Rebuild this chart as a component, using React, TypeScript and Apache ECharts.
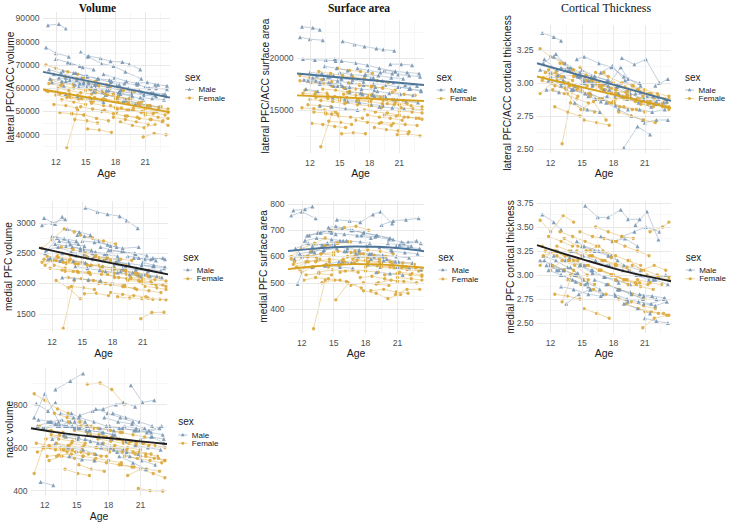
import React, { useEffect, useRef } from "react";
import * as echarts from "echarts";

// ---------- subject visit ages (shared by every panel) ----------
const maleAges: number[][] = [
  [11.2, 12.3, 13.0], [11.0, 12.0, 13.3], [15.3, 16.5, 17.5, 18.7, 19.4, 20.5], [14.5, 15.2, 16.6, 17.8, 19.0, 20.6],
  [11.3, 12.5, 13.6, 14.6], [12.0, 13.2, 14.4], [16.8, 17.9, 19.1, 20.3], [20.1, 21.2, 22.3],
  [18.1, 19.3, 20.4, 21.6, 22.8], [13.0, 14.4, 15.6], [14.0, 15.1, 16.3, 17.4], [13.5, 14.7, 15.8],
  [17.3, 18.5, 19.7, 20.8], [19.5, 20.6, 21.8, 23.0], [11.6, 12.8], [15.8, 17.0, 18.2, 19.4],
  [21.0, 22.1, 23.2], [12.3, 13.4, 14.8, 15.9], [16.2, 17.4, 18.6], [18.8, 20.0, 21.1, 22.4],
  [14.3, 15.5, 16.7], [11.8, 13.0, 14.1, 15.3], [17.6, 18.9, 20.2, 21.4], [13.0, 14.2, 15.6, 16.8],
  [20.5, 21.7, 22.9], [15.0, 16.2, 17.5, 18.4], [19.0, 20.3, 21.5], [22.0, 23.2],
  [11.4, 12.6, 13.9, 15.1], [16.0, 17.1, 18.3, 19.6], [18.4, 19.6, 20.9, 22.1], [12.7, 13.8, 15.2],
  [20.9, 22.0, 23.1], [14.8, 16.0, 17.2, 18.5],
];
const femaleAges: number[][] = [
  [13.1, 14.2], [11.0, 12.0, 13.2, 14.2], [11.5, 12.6, 13.7], [12.2, 13.3, 14.5, 15.6],
  [14.8, 16.0, 17.1, 18.3], [16.0, 17.2, 18.3, 19.5], [17.5, 18.6, 19.8, 21.0], [20.8, 21.9, 23.1],
  [19.2, 20.4, 21.6, 22.8], [12.6, 13.8, 15.0], [13.6, 14.9, 16.1, 17.3], [15.2, 16.4, 17.6],
  [18.0, 19.1, 20.3, 21.4], [11.2, 12.4, 13.5, 14.6], [16.6, 17.8, 19.0, 20.2], [21.5, 22.7, 23.3],
  [14.2, 15.4, 16.6], [11.8, 13.0, 14.1], [17.0, 18.2, 19.4, 20.6], [19.8, 21.0, 22.2, 23.3],
  [12.9, 14.1, 15.3, 16.4], [15.6, 16.8, 18.0, 19.2], [18.5, 19.7, 20.9, 22.0], [13.9, 15.1, 16.2],
  [11.0, 12.1, 13.4], [16.3, 17.5, 18.8, 19.9], [20.3, 21.5, 22.6], [14.5, 15.7, 16.9, 18.1],
  [12.4, 13.6, 14.8], [17.8, 19.0, 20.1, 21.3], [21.0, 22.3, 23.3], [15.9, 17.0, 18.2, 19.3],
  [11.3, 12.5, 13.8, 15.0], [16.8, 18.0, 19.3, 20.5], [19.5, 20.7, 21.9, 23.0], [13.3, 14.6, 15.8],
  [12.0, 13.1, 14.3, 15.5], [18.2, 19.4, 20.6, 21.8], [15.4, 16.6, 17.8], [21.2, 22.4, 23.3],
];

// ---------- lateral PFC/ACC volume ----------
const latVolMale: number[][] = [
  [87000, 87500, 85500], [77500, 75000, 73500], [73800, 72800, 71500, 71200, 70300, 68000], [75500, 73500, 70500, 69500, 67000, 64000],
  [68000, 66500, 65000, 64500], [72500, 71000, 69500], [66000, 64500, 63000, 62000], [62000, 62500, 61500],
  [61000, 60000, 59000, 58000, 57000], [63000, 62000, 60500], [66500, 65000, 64000, 63500], [70500, 69000, 68000],
  [59000, 57500, 56500, 55000], [59500, 58500, 58000, 57500], [62500, 61000], [58500, 57000, 56000, 55500],
  [60500, 60000, 59500], [64500, 63500, 62000, 61500], [62000, 61000, 59500], [54500, 53000, 52500, 52000],
  [60500, 59500, 58500], [66000, 64500, 63500, 62000], [63000, 62000, 61500, 60000], [57500, 56500, 55000, 54000],
  [56000, 55500, 55000], [65500, 64000, 62500, 61500], [55000, 53500, 52500], [61500, 61000],
  [64000, 63000, 61500, 60500], [60000, 59000, 58000, 57000], [58500, 58000, 57000, 56500], [67500, 66500, 65000],
  [57500, 57000, 56500], [62500, 61500, 60500, 59000],
];
const latVolFemale: number[][] = [
  [34500, 50500], [70000, 68500, 67000, 66000], [63500, 62000, 61500], [60000, 59000, 58000, 57500],
  [64500, 63000, 61500, 60500], [58000, 57000, 56500, 55000], [52500, 51500, 50500, 49500], [39000, 40500, 40000],
  [48000, 47000, 46500, 46000], [55000, 54000, 53000], [49000, 48500, 47000, 46000], [42500, 42000, 41000],
  [55500, 54500, 53500, 52500], [58500, 57500, 56000, 55500], [50000, 49000, 48000, 47500], [46500, 45500, 44000],
  [57000, 56000, 55000], [53000, 52500, 51500], [57500, 56000, 55500, 54000], [51500, 51000, 50000, 49500],
  [65000, 64000, 62500, 61000], [53500, 52500, 51500, 50500], [45500, 44000, 43000, 44500], [46500, 46000, 45000],
  [59000, 58500, 57500], [61000, 60000, 59000, 58500], [53500, 52500, 52000], [52000, 51000, 50500, 49500],
  [49500, 49000, 48500], [47500, 46500, 45500, 44500], [48500, 47500, 47000], [56000, 55000, 54500, 53500],
  [62000, 61000, 60000, 59000], [55500, 54500, 53500, 52500], [50500, 50000, 49500, 48500], [56500, 55500, 54500],
  [57000, 56000, 55000, 54500], [51000, 50500, 49500, 49000], [59500, 58500, 57500], [52500, 51500, 51000],
];
const latVolFitMale = [[10.7, 67000], [23.5, 55900]];
const latVolFitFemale = [[10.7, 59400], [23.5, 49700]];
const latVolTicks = [40000, 50000, 60000, 70000, 80000, 90000];

// ---------- lateral PFC/ACC surface area ----------
const latSAMale: number[][] = [
  [23000, 22900, 22700], [22000, 21800, 21700], [21600, 21300, 21100, 20900, 20800, 20700], [19900, 19700, 19500, 19300, 19000, 18700],
  [19900, 19800, 19800, 19700], [18600, 18500, 18300], [19000, 18800, 18600, 18500], [19400, 19400, 19300],
  [18000, 17800, 17600, 17400, 17300], [17500, 17300, 17100], [18200, 18000, 17900, 17700], [19200, 19000, 18800],
  [16500, 16300, 16100, 16000], [18800, 18700, 18600, 18500], [17000, 16800], [15800, 15700, 15500, 15400],
  [17200, 17000, 16900], [18100, 18000, 17800, 17600], [17600, 17400, 17200], [16800, 16600, 16500, 16400],
  [16200, 16000, 15900], [17800, 17600, 17500, 17300], [18400, 18300, 18100, 18000], [15400, 15300, 15100, 15000],
  [16000, 15800, 15700], [18600, 18400, 18300, 18100], [15300, 15200, 15100], [17000, 16800],
  [17900, 17800, 17600, 17500], [16700, 16600, 16400, 16300], [17500, 17400, 17200, 17100], [18300, 18200, 18000],
  [18400, 18300, 18200], [17300, 17200, 17000, 16900],
];
const latSAFemale: number[][] = [
  [11450, 14600], [18300, 18100, 17900, 17700], [16900, 16700, 16600], [13700, 13600, 13400, 13300],
  [19000, 18800, 18700, 18500], [16800, 16600, 16500, 16300], [15000, 14800, 14700, 14500], [12600, 12700, 12500],
  [13800, 13700, 13600, 13500], [16200, 16100, 15900], [14600, 14400, 14300, 14200], [12700, 12800, 12700],
  [16400, 16200, 16000, 15900], [15200, 15100, 15000, 14800], [14000, 13800, 13700, 13500], [14300, 14200, 14100],
  [17300, 17100, 17000], [15500, 15400, 15300], [17400, 17200, 17100, 16900], [15600, 15500, 15400, 15300],
  [18700, 18500, 18300, 18100], [15700, 15500, 15400, 15200], [13300, 13100, 13000, 12900], [13900, 13800, 13600],
  [17800, 17600, 17500], [18200, 18000, 17800, 17600], [16700, 16500, 16400], [16300, 16200, 16000, 15800],
  [14800, 14700, 14600], [14500, 14300, 14200, 14000], [14900, 14800, 14700], [17600, 17400, 17300, 17100],
  [16600, 16500, 16400, 16200], [15900, 15800, 15600, 15500], [14500, 14400, 14300, 14200], [17000, 16900, 16700],
  [16000, 15900, 15800, 15600], [16000, 15900, 15700, 15600], [16500, 16400, 16200], [15200, 15100, 15000],
];
const latSAFitMale = [[10.7, 18500], [23.5, 17400]];
const latSAFitFemale = [[10.7, 16400], [23.5, 15850]];
const latSATicks = [15000, 20000];

// ---------- lateral PFC/ACC cortical thickness ----------
const latThkMale: number[][] = [
  [3.38, 3.35, 3.32], [3.10, 3.08, 3.05], [3.02, 3.00, 2.98, 3.12, 3.03, 3.00], [3.18, 3.20, 3.15, 3.12, 3.05, 2.98],
  [3.15, 3.22, 3.12, 3.05], [3.05, 3.02, 2.98], [3.08, 3.13, 3.02, 2.95], [2.92, 2.90, 2.88],
  [2.90, 2.88, 2.85, 2.82, 2.85], [3.12, 3.06, 3.02], [2.95, 3.00, 2.88, 2.90], [3.10, 3.05, 3.02],
  [2.85, 2.80, 2.75, 2.72], [2.95, 2.93, 2.90, 2.88], [2.95, 2.93], [2.92, 2.88, 2.83, 2.80],
  [2.70, 2.72, 2.72], [3.20, 3.15, 3.08, 3.05], [3.05, 3.02, 2.98], [3.19, 3.14, 3.18, 3.00],
  [2.85, 2.80, 2.78], [3.02, 3.00, 2.95, 2.92], [2.95, 2.90, 2.88, 2.85], [2.98, 2.95, 2.90, 2.86],
  [2.80, 2.78, 2.80], [3.10, 3.05, 3.02, 2.98], [2.51, 2.67, 2.61], [2.98, 3.03],
  [3.18, 3.10, 3.12, 3.02], [3.00, 2.95, 2.97, 2.90], [2.98, 2.92, 2.88, 2.86], [3.06, 3.10, 3.00],
  [2.88, 2.84, 2.86], [3.05, 2.98, 3.00, 2.92],
];
const latThkFemale: number[][] = [
  [2.54, 2.98], [3.26, 3.20, 3.15, 3.10], [3.08, 3.05, 3.00], [2.95, 2.92, 2.88, 2.85],
  [3.12, 3.02, 3.08, 2.95], [2.98, 2.95, 2.92, 2.90], [2.85, 2.82, 2.80, 2.78], [2.90, 2.88, 2.85],
  [2.93, 2.95, 2.92, 2.88], [3.02, 2.98, 2.94], [2.92, 2.80, 2.86, 2.72], [2.72, 2.70, 2.68],
  [3.00, 2.97, 2.95, 2.92], [3.02, 2.98, 2.95, 2.90], [2.88, 2.85, 2.82, 2.80], [2.85, 2.82, 2.80],
  [3.05, 3.02, 2.98], [3.10, 3.05, 3.02], [2.95, 2.92, 2.88, 2.86], [2.98, 2.95, 2.92, 2.90],
  [3.15, 3.10, 3.05, 3.00], [2.92, 2.98, 2.86, 2.90], [2.78, 2.75, 2.72, 2.70], [2.85, 2.80, 2.78],
  [2.92, 3.00, 2.96], [3.08, 3.05, 3.00, 2.98], [2.88, 2.86, 2.84], [2.95, 2.92, 2.88, 2.85],
  [2.82, 2.78, 2.75], [2.92, 2.88, 2.86, 2.84], [2.92, 2.90, 2.88], [3.02, 2.98, 2.95, 2.92],
  [3.04, 3.08, 2.98, 2.96], [2.96, 2.92, 2.94, 2.88], [2.90, 2.86, 2.84, 2.82], [3.00, 2.96, 2.90],
  [3.12, 3.05, 3.06, 2.98], [2.88, 2.90, 2.84, 2.82], [3.06, 3.00, 2.96], [2.86, 2.84, 2.82],
];
const latThkFitMale = [[10.7, 3.15], [23.5, 2.865]];
const latThkFitFemale = [[10.7, 3.05], [23.5, 2.81]];
const latThkTicks = [2.5, 2.75, 3.0, 3.25];

// ---------- medial PFC volume ----------
const medVolMale: number[][] = [
  [3080, 2980, 3100], [2960, 3000, 3060], [3250, 3180, 3140, 3110, 3040, 2910], [2800, 2780, 2700, 2620, 2580, 2600],
  [2500, 2750, 2700, 2650], [2780, 2740, 2700], [2600, 2550, 2520, 2480], [2420, 2400, 2380],
  [2300, 2280, 2250, 2230, 2210], [2500, 2460, 2430], [2600, 2560, 2520, 2490], [2900, 2850, 2800],
  [2200, 2180, 2150, 2120], [2450, 2420, 2400, 2420], [2400, 2370], [2300, 2280, 2250, 2220],
  [2350, 2300, 2270], [2650, 2620, 2580, 2550], [2450, 2420, 2390], [2200, 2180, 2150, 2120],
  [2280, 2250, 2220], [2420, 2400, 2370, 2340], [2550, 2520, 2500, 2460], [2100, 2080, 2060, 2050],
  [2150, 2120, 2100], [2700, 2680, 2640, 2600], [2250, 2230, 2200], [2420, 2400],
  [2550, 2600, 2520, 2480], [2400, 2380, 2350, 2320], [2350, 2330, 2300, 2280], [2700, 2650, 2620],
  [2300, 2280, 2250], [2550, 2500, 2480, 2450],
];
const medVolFemale: number[][] = [
  [1260, 2050], [2580, 2720, 2900, 2850], [2450, 2430, 2380], [2300, 2250, 2200, 2180],
  [2800, 2750, 2700, 2650], [2400, 2380, 2340, 2300], [2150, 2100, 2080, 2050], [1420, 1520, 1525],
  [1950, 1900, 1880, 1850], [2500, 2460, 2420], [2100, 2080, 2050, 2000], [1830, 1840, 1800],
  [2250, 2220, 2180, 2150], [2400, 2380, 2350, 2320], [2000, 1980, 1950, 1920], [1760, 1740, 1730],
  [2350, 2320, 2300], [2250, 2220, 2200], [2200, 2170, 2150, 2120], [2100, 2080, 2060, 2040],
  [2600, 2560, 2500, 2460], [2050, 2030, 2000, 1980], [1780, 1760, 1750, 1740], [1950, 1930, 1900],
  [2350, 2380, 2330], [2450, 2420, 2400, 2380], [2150, 2120, 2100], [2200, 2180, 2150, 2120],
  [2050, 1930, 1750], [1850, 1820, 1800, 1780], [2000, 1980, 1950], [2300, 2280, 2250, 2220],
  [2300, 2450, 2400, 2350], [2250, 2220, 2200, 2160], [2050, 2030, 2000, 1980], [2200, 2180, 2150],
  [2380, 2350, 2320, 2300], [2100, 2080, 2050, 2030], [2450, 2420, 2380], [1950, 1930, 1900],
];
const medVolFit = [[10.7, 2590], [13, 2505], [15, 2430], [17, 2365], [19, 2300], [21, 2235], [23.5, 2150]];
const medVolTicks = [1500, 2000, 2500, 3000];

// ---------- medial PFC surface area ----------
const medSAMale: number[][] = [
  [775, 780, 790], [755, 770, 745], [740, 735, 730, 760, 770, 725], [710, 715, 700, 690, 680, 665],
  [590, 680, 690, 700], [600, 615, 650], [700, 690, 680, 670], [650, 645, 640],
  [640, 635, 625, 650, 660], [640, 650, 660], [620, 640, 630, 625], [690, 700, 705],
  [600, 590, 585, 580], [720, 735, 740, 745], [495, 620], [580, 575, 570, 560],
  [560, 555, 550], [660, 670, 665, 660], [620, 615, 610], [600, 590, 580, 575],
  [570, 580, 575], [610, 620, 625, 630], [680, 675, 665, 655], [560, 565, 560, 555],
  [620, 615, 610], [650, 660, 655, 650], [540, 535, 530], [655, 650],
  [630, 650, 645, 640], [620, 610, 605, 600], [610, 605, 600, 595], [680, 690, 685],
  [640, 635, 630], [690, 685, 680, 670],
];
const medSAFemale: number[][] = [
  [325, 510], [600, 630, 650, 670], [560, 580, 590], [510, 520, 515, 510],
  [700, 710, 715, 700], [580, 585, 580, 575], [520, 525, 515, 505], [455, 475, 475],
  [500, 510, 505, 500], [600, 610, 615], [540, 550, 545, 540], [435, 500, 480],
  [560, 565, 560, 555], [570, 580, 585, 580], [490, 500, 495, 490], [560, 555, 550],
  [640, 650, 655], [550, 560, 565], [620, 625, 620, 610], [530, 535, 530, 525],
  [620, 640, 650, 655], [540, 550, 545, 540], [470, 475, 465, 460], [500, 510, 505],
  [590, 600, 595], [600, 610, 605, 600], [580, 575, 570], [560, 570, 575, 570],
  [530, 535, 530], [470, 460, 440, 455], [520, 515, 510], [590, 600, 595, 590],
  [580, 600, 610, 605], [590, 585, 580, 575], [560, 555, 550, 545], [580, 590, 585],
  [540, 560, 570, 565], [575, 570, 565, 560], [620, 615, 610], [540, 535, 530],
];
const medSAFitMale = [[10.7, 621], [13, 629], [15, 635], [17, 638], [19, 637], [21, 632], [23.5, 620]];
const medSAFitFemale = [[10.7, 552], [13, 562], [15, 568], [17, 571], [19, 570], [21, 566], [23.5, 557]];
const medSATicks = [400, 500, 600, 700, 800];

// ---------- medial PFC cortical thickness ----------
const medThkMale: number[][] = [
  [3.63, 3.55, 3.47], [3.15, 3.12, 3.05], [3.72, 3.60, 3.60, 3.68, 3.58, 3.58], [3.35, 3.30, 3.25, 3.20, 3.10, 3.05],
  [3.20, 3.15, 3.08, 3.02], [3.10, 3.05, 3.00], [3.40, 3.35, 3.38, 3.30], [3.52, 3.66, 3.37],
  [2.80, 2.75, 2.72, 2.70, 2.75], [3.00, 2.93, 2.88], [3.25, 3.20, 3.15, 3.10], [2.70, 2.80, 2.85],
  [2.90, 2.85, 2.80, 2.75], [3.05, 3.00, 2.95, 3.00], [3.10, 3.05], [2.85, 2.80, 2.78, 2.72],
  [2.55, 2.52, 2.50], [3.20, 3.15, 3.10, 3.05], [2.95, 2.90, 2.85], [3.40, 3.45, 3.50, 3.45],
  [3.00, 2.92, 2.85], [3.05, 3.00, 2.95, 2.90], [3.10, 3.05, 3.00, 2.95], [2.88, 2.85, 2.80, 2.78],
  [2.80, 2.78, 2.76], [3.30, 3.25, 3.20, 3.15], [2.70, 2.65, 2.60], [2.95, 2.90],
  [3.15, 3.05, 3.08, 2.95], [3.05, 2.98, 2.95, 2.90], [2.85, 2.82, 2.78, 2.75], [3.25, 3.18, 3.10],
  [2.70, 2.68, 2.72], [3.10, 3.02, 2.98, 2.92],
];
const medThkFemale: number[][] = [
  [2.72, 3.05], [3.57, 3.45, 3.62, 3.55], [3.25, 3.20, 3.15], [3.10, 3.05, 3.00, 2.95],
  [3.45, 3.40, 3.38, 3.35], [3.20, 3.15, 3.10, 3.05], [2.90, 2.85, 2.80, 2.75], [2.45, 2.55, 2.58],
  [2.70, 2.65, 2.62, 2.60], [3.30, 3.25, 3.20], [2.95, 2.90, 2.85, 2.80], [2.65, 2.60, 2.55],
  [3.35, 3.30, 3.25, 3.20], [3.30, 3.25, 3.20, 3.15], [3.05, 3.00, 2.95, 2.90], [3.45, 3.50, 3.55],
  [3.15, 3.10, 3.05], [3.40, 3.35, 3.30], [3.25, 3.20, 3.15, 3.10], [3.10, 3.05, 3.00, 2.98],
  [3.45, 3.40, 3.35, 3.30], [3.10, 3.05, 3.00, 2.95], [2.75, 2.72, 2.68, 2.65], [3.00, 2.95, 2.90],
  [3.10, 3.25, 3.20], [3.50, 3.45, 3.40, 3.38], [2.95, 2.92, 2.90], [3.25, 3.20, 3.15, 3.10],
  [2.80, 2.78, 2.75], [3.00, 2.95, 2.92, 2.90], [2.62, 2.60, 2.58], [3.20, 3.15, 3.12, 3.08],
  [3.20, 3.25, 3.15, 3.10], [3.05, 3.00, 2.95, 2.92], [3.15, 3.05, 3.10, 3.05], [3.38, 3.30, 3.25],
  [3.05, 3.15, 3.10, 3.00], [2.95, 2.90, 2.88, 2.85], [3.25, 3.30, 3.18], [3.00, 2.98, 2.95],
];
const medThkFit = [[10.7, 3.31], [13, 3.23], [15, 3.165], [17, 3.10], [19, 3.04], [21, 2.99], [23.5, 2.935]];
const medThkTicks = [2.5, 2.75, 3.0, 3.25, 3.5, 3.75];

// ---------- nacc volume ----------
const naccMale: number[][] = [
  [805, 770, 810], [740, 850, 720], [750, 770, 780, 800, 810, 790], [760, 740, 720, 700, 690, 680],
  [700, 720, 730, 700], [690, 700, 720], [780, 760, 740, 720], [890, 810, 820],
  [700, 690, 680, 670, 690], [870, 910, 945], [650, 640, 630, 620], [760, 740, 720],
  [600, 590, 580, 570], [700, 690, 680, 700], [440, 425], [640, 620, 600, 590],
  [640, 650, 620], [720, 700, 690, 680], [680, 670, 660], [580, 560, 540, 520],
  [560, 545, 540], [690, 710, 700, 690], [740, 720, 710, 690], [620, 600, 590, 570],
  [610, 600, 590], [700, 680, 670, 660], [560, 530, 500], [650, 640],
  [730, 720, 700, 690], [660, 650, 640, 630], [760, 740, 720, 700], [640, 660, 650],
  [680, 670, 660], [720, 700, 690, 680],
];
const naccFemale: number[][] = [
  [560, 610], [850, 820, 780, 760], [700, 680, 670], [560, 565, 570, 560],
  [680, 670, 660, 650], [895, 900, 870, 800], [620, 610, 600, 590], [410, 400, 398],
  [520, 510, 500, 490], [660, 650, 640], [590, 580, 570, 560], [520, 500, 490],
  [680, 670, 660, 650], [620, 610, 600, 590], [540, 530, 520, 510], [560, 550, 540],
  [720, 700, 690], [600, 590, 580], [640, 630, 620, 610], [470, 500, 480, 460],
  [760, 740, 720, 700], [560, 550, 540, 530], [600, 590, 580, 570], [500, 480, 470],
  [480, 640, 660], [660, 650, 640, 620], [580, 570, 560], [620, 610, 600, 580],
  [540, 560, 550], [650, 640, 630, 620], [560, 550, 540], [700, 690, 680, 670],
  [580, 600, 590, 580], [600, 590, 580, 570], [560, 550, 540, 530], [640, 630, 620],
  [600, 620, 610, 600], [640, 630, 620, 610], [580, 570, 560], [620, 610, 600],
];
const naccFit = [[10.7, 690], [13, 672], [15, 659], [17, 649], [19, 640], [21, 629], [23.5, 617]];
const naccTicks = [400, 600, 800];

const ageTicks = [12, 15, 18, 21];
const columnTitles = ["Volume", "Surface area", "Cortical Thickness"];

// ---------- styling ----------
const AGE_MIN = 10.7;
const AGE_MAX = 23.5;
const MALE = "#7896b3";
const FEMALE = "#dcaa3e";
const MALE_FIT = "#4d7597";
const FEMALE_FIT = "#d6a21e";
const BLACK_FIT = "#1f1f1f";
const SANS = "'Liberation Sans', Arial, Helvetica, sans-serif";
const SERIF = "'Liberation Serif', 'Times New Roman', serif";

type Fit = { data: number[][]; color: string };
type Panel = {
  left: number; top: number; right: number; bottom: number;
  yMin: number; yMax: number; yTicks: number[]; dec: number;
  male: number[][]; female: number[][]; fits: Fit[];
  yTitle: string; tx: number; ty: number;
  lx: number; ly: number; lm: number; lf: number;
  ageY: number; labM: number;
};

const panels: Panel[] = [
  { left: 43, top: 12, right: 170, bottom: 151, yMin: 33000, yMax: 92700, yTicks: latVolTicks, dec: 0,
    male: latVolMale, female: latVolFemale,
    fits: [{ data: latVolFitMale, color: MALE_FIT }, { data: latVolFitFemale, color: FEMALE_FIT }],
    yTitle: "lateral PFC/ACC volume", tx: 10, ty: 87, lx: 185, ly: 77, lm: 89.5, lf: 98, ageY: 173, labM: 6 },
  { left: 297, top: 20, right: 424, bottom: 153, yMin: 10850, yMax: 23650, yTicks: latSATicks, dec: 0,
    male: latSAMale, female: latSAFemale,
    fits: [{ data: latSAFitMale, color: MALE_FIT }, { data: latSAFitFemale, color: FEMALE_FIT }],
    yTitle: "lateral PFC/ACC surface area", tx: 265, ty: 86, lx: 436.5, ly: 77, lm: 90, lf: 98.5, ageY: 173, labM: 5 },
  { left: 537, top: 25, right: 671, bottom: 153, yMin: 2.47, yMax: 3.44, yTicks: latThkTicks, dec: 2,
    male: latThkMale, female: latThkFemale,
    fits: [{ data: latThkFitMale, color: MALE_FIT }, { data: latThkFitFemale, color: FEMALE_FIT }],
    yTitle: "lateral PFC/ACC cortical thickness", tx: 507.5, ty: 93, lx: 685, ly: 77, lm: 90, lf: 98.5, ageY: 173, labM: 5 },
  { left: 39, top: 201, right: 168, bottom: 332, yMin: 1200, yMax: 3360, yTicks: medVolTicks, dec: 0,
    male: medVolMale, female: medVolFemale,
    fits: [{ data: medVolFit, color: BLACK_FIT }],
    yTitle: "medial PFC volume", tx: 8.5, ty: 266.5, lx: 183.3, ly: 257.3, lm: 270, lf: 278.7, ageY: 353, labM: 5.5 },
  { left: 288, top: 201, right: 424, bottom: 333, yMin: 309, yMax: 811, yTicks: medSATicks, dec: 0,
    male: medSAMale, female: medSAFemale,
    fits: [{ data: medSAFitMale, color: MALE_FIT }, { data: medSAFitFemale, color: FEMALE_FIT }],
    yTitle: "medial PFC surface area", tx: 263.5, ty: 266.5, lx: 438.3, ly: 257.3, lm: 270, lf: 279, ageY: 353, labM: 5 },
  { left: 537, top: 201, right: 671, bottom: 333, yMin: 2.396, yMax: 3.77, yTicks: medThkTicks, dec: 2,
    male: medThkMale, female: medThkFemale,
    fits: [{ data: medThkFit, color: BLACK_FIT }],
    yTitle: "medial PFC cortical thickness", tx: 510, ty: 267, lx: 685.7, ly: 257.3, lm: 270, lf: 278.7, ageY: 353, labM: 5 },
  { left: 31, top: 368, right: 167, bottom: 497, yMin: 377, yMax: 970, yTicks: naccTicks, dec: 0,
    male: naccMale, female: naccFemale,
    fits: [{ data: naccFit, color: BLACK_FIT }],
    yTitle: "nacc volume", tx: 9, ty: 429.5, lx: 178.3, ly: 421.7, lm: 435, lf: 443.3, ageY: 515.5, labM: 4.5 },
];

function minorOf(ticks: number[], min: number, max: number): number[] {
  const step = ticks.length > 1 ? ticks[1] - ticks[0] : 1;
  const out: number[] = [];
  for (let v = ticks[0] - step * 2.5; v < max; v += step) if (v > min) out.push(v);
  return out;
}

function buildOption() {
  const grid: any[] = [];
  const xAxis: any[] = [];
  const yAxis: any[] = [];
  const series: any[] = [];
  const graphic: any[] = [];

  panels.forEach((p, i) => {
    grid.push({ left: p.left, top: p.top, width: p.right - p.left, height: p.bottom - p.top, containLabel: false });
    xAxis.push({
      gridIndex: i, type: "value", min: AGE_MIN, max: AGE_MAX,
      axisLine: { show: false }, axisTick: { show: false }, splitLine: { show: false },
      axisLabel: { customValues: ageTicks, fontSize: 8.6, color: "#4d4d4d", margin: p.labM, fontFamily: SANS,
        formatter: (v: number) => String(v) },
      name: "Age", nameLocation: "middle", nameGap: p.ageY - 5.5 - p.bottom,
      nameTextStyle: { fontSize: 10.5, color: "#1a1a1a", fontFamily: SANS },
    });
    yAxis.push({
      gridIndex: i, type: "value", min: p.yMin, max: p.yMax,
      axisLine: { show: false }, axisTick: { show: false }, splitLine: { show: false },
      axisLabel: { customValues: p.yTicks, fontSize: 8.6, color: "#4d4d4d", margin: 3.5, fontFamily: SANS,
        formatter: (v: number) => (p.dec ? v.toFixed(p.dec) : String(v)) },
    });

    // grid lines
    const yMinor = minorOf(p.yTicks, p.yMin, p.yMax);
    const xMinor = minorOf(ageTicks, AGE_MIN, AGE_MAX);
    const major = { color: "#e6e6e6", width: 0.9, type: "solid" };
    const minor = { color: "#f1f1f1", width: 0.6, type: "solid" };
    series.push({
      type: "line", xAxisIndex: i, yAxisIndex: i, data: [], silent: true, z: 0,
      markLine: {
        silent: true, symbol: ["none", "none"], label: { show: false }, animation: false,
        lineStyle: { type: "solid" },
        data: [
          ...yMinor.map((v) => ({ yAxis: v, lineStyle: minor })),
          ...xMinor.map((v) => ({ xAxis: v, lineStyle: minor })),
          ...p.yTicks.filter((v) => v >= p.yMin && v <= p.yMax).map((v) => ({ yAxis: v, lineStyle: major })),
          ...ageTicks.map((v) => ({ xAxis: v, lineStyle: major })),
        ],
      },
    });

    // subject trajectories, interleaved male / female
    const n = Math.max(p.male.length, p.female.length);
    const subj = (ages: number[], vals: number[], male: boolean) => {
      const c = male ? MALE : FEMALE;
      const len = Math.min(ages.length, vals.length);
      const data: number[][] = [];
      for (let k = 0; k < len; k++) data.push([ages[k], vals[k]]);
      return {
        type: "line", xAxisIndex: i, yAxisIndex: i, data, silent: true, z: 2,
        symbol: male ? "triangle" : "circle", symbolSize: male ? 4 : 3.4, showSymbol: true,
        lineStyle: { color: c, width: 0.7, opacity: 0.65 },
        itemStyle: { color: c, opacity: 0.9 },
      };
    };
    for (let s = 0; s < n; s++) {
      if (s < p.male.length) series.push(subj(maleAges[s], p.male[s], true));
      if (s < p.female.length) series.push(subj(femaleAges[s], p.female[s], false));
    }

    // fitted curves
    p.fits.forEach((f) => {
      series.push({
        type: "line", xAxisIndex: i, yAxisIndex: i, data: f.data, silent: true, z: 5,
        symbol: "none", smooth: f.data.length > 2 ? 0.35 : false,
        lineStyle: { color: f.color, width: 1.9 },
      });
    });

    // y-axis title
    graphic.push({
      type: "text", x: p.tx, y: p.ty, rotation: Math.PI / 2, silent: true,
      style: { text: p.yTitle, fontSize: 10.2, fontFamily: SANS, fill: "#1a1a1a", align: "center", verticalAlign: "middle" },
    });

    // legend
    graphic.push({
      type: "text", x: p.lx, y: p.ly, silent: true,
      style: { text: "sex", fontSize: 10, fontFamily: SANS, fill: "#1a1a1a", align: "left", verticalAlign: "middle" },
    });
    const ix = p.lx + 4.5;
    graphic.push({ type: "line", silent: true, shape: { x1: p.lx, y1: p.lm, x2: p.lx + 9, y2: p.lm }, style: { stroke: MALE, lineWidth: 0.7, opacity: 0.8 } });
    graphic.push({ type: "polygon", silent: true, shape: { points: [[ix, p.lm - 2], [ix - 1.8, p.lm + 1.3], [ix + 1.8, p.lm + 1.3]] }, style: { fill: MALE } });
    graphic.push({ type: "text", x: p.lx + 13.5, y: p.lm, silent: true, style: { text: "Male", fontSize: 8, fontFamily: SANS, fill: "#1a1a1a", align: "left", verticalAlign: "middle" } });
    graphic.push({ type: "line", silent: true, shape: { x1: p.lx, y1: p.lf, x2: p.lx + 9, y2: p.lf }, style: { stroke: FEMALE, lineWidth: 0.7, opacity: 0.8 } });
    graphic.push({ type: "circle", silent: true, shape: { cx: ix, cy: p.lf, r: 1.5 }, style: { fill: FEMALE } });
    graphic.push({ type: "text", x: p.lx + 13.5, y: p.lf, silent: true, style: { text: "Female", fontSize: 8, fontFamily: SANS, fill: "#1a1a1a", align: "left", verticalAlign: "middle" } });
  });

  // column titles
  const titleX = [97.5, 359, 606];
  columnTitles.forEach((t, k) => {
    graphic.push({
      type: "text", x: titleX[k], y: 8, silent: true,
      style: { text: t, fontSize: k === 2 ? 12 : 11.5, fontWeight: k === 2 ? "normal" : "bold", fontFamily: SERIF, fill: "#111", align: "center", verticalAlign: "middle" },
    });
  });

  return {
    animation: false,
    backgroundColor: "#ffffff",
    textStyle: { fontFamily: SANS },
    grid, xAxis, yAxis, series, graphic,
  };
}

export default function App() {
  const ref = useRef<HTMLDivElement>(null);
  useEffect(() => {
    if (!ref.current) return;
    const chart = echarts.init(ref.current, undefined, { renderer: "svg" });
    chart.setOption(buildOption() as any);
    return () => chart.dispose();
  }, []);
  return (
    <div
      ref={ref}
      style={{ position: "fixed", left: 0, top: 0, width: 729, height: 522, background: "#fff" }}
    />
  );
}
